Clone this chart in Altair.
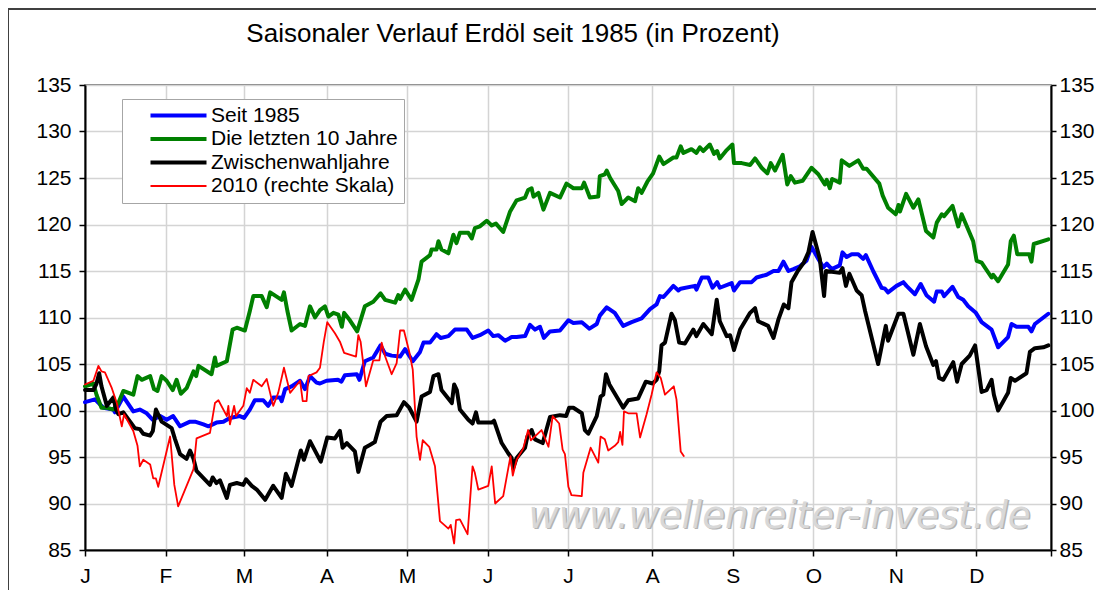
import altair as alt
import pandas as pd

TITLE = "Saisonaler Verlauf Erdöl seit 1985 (in Prozent)"
SERIES = ["Seit 1985", "Die letzten 10 Jahre", "Zwischenwahljahre", "2010 (rechte Skala)"]
COLORS = ["#0000ff", "#008000", "#000000", "#ff0000"]
MONTH_TICKS = [0, 21, 41.5, 63, 84, 105, 126, 148, 169, 190, 211.5, 232.5, 252]
MONTH_LABELS = ["J", "F", "M", "A", "M", "J", "J", "A", "S", "O", "N", "D", ""]
Y_TICKS = [85, 90, 95, 100, 105, 110, 115, 120, 125, 130, 135]
WATERMARK = "www.wellenreiter-invest.de"

# Seit 1985 (blue)
blue_day = [0, 2.6, 4.8, 7.4, 7.8, 10, 12.6, 14.3, 16.1, 17.7, 19.6, 21.3, 23, 24.8, 27.4, 28.7,
            30.9, 32.2, 34.3, 36.1, 37.8, 40.4, 41.5, 43, 44.3, 46.5, 47.8, 49.1, 50.9, 51.3, 52.2,
            53.9, 56.1, 57.4, 58.7, 60.4, 61.3, 63, 66, 66.9, 67.8, 70.9, 71.6, 73, 75.2, 77.1,
            78.3, 80, 82.2, 83.5, 85.5, 87.4, 88.3, 90, 91.7, 92.8, 94.8, 96.5, 99.6, 101.1, 103,
            105.2, 106.5, 107.8, 109.6, 111.3, 112.6, 114.8, 116.1, 117.4, 118.7, 119.7, 121.3,
            123.9, 126.1, 127.4, 129.6, 131.6, 133.5, 134.3, 136.1, 138.2, 140.4, 142.6, 145.2,
            147.4, 149.1, 150, 150.9, 153.5, 154.8, 155.4, 159.1, 159.5, 160.9, 162.6, 163.7,
            164.9, 165.6, 168.7, 169.3, 170.9, 173.9, 175.2, 177.8, 179.6, 180.9, 182.2, 183.5,
            184.8, 186.5, 188.2, 189.5, 191.3, 192.6, 193.5, 194.8, 196.9, 197.6, 198.7, 200,
            201.7, 203, 203.7, 205.6, 207.8, 208.7, 209.5, 211.7, 213.5, 214.3, 216.5, 218, 219.5,
            221.5, 222.2, 223.5, 224.1, 226.3, 227.8, 229.1, 230.4, 232.4, 233.9, 236.5, 238.2,
            240.8, 241.7, 243, 246.1, 246.9, 247.8, 251.3]
blue_val = [100.9, 101.2, 100.3, 100.1, 99.8, 101.5, 99.9, 100.1, 99.7, 99.0, 99.4, 99.0, 99.4, 98.3,
            98.8, 98.8, 98.5, 98.3, 98.7, 98.8, 99.2, 99.4, 99.2, 100.1, 101.1, 101.1, 100.5, 101.4,
            101.4, 101.0, 102.3, 102.6, 103.2, 102.3, 103.7, 103.0, 102.9, 103.2, 103.3, 103.1,
            103.8, 103.9, 103.3, 105.3, 105.7, 107.0, 106.1, 105.9, 105.8, 106.6, 105.3, 106.3,
            107.3, 107.3, 108.2, 107.8, 108.0, 108.7, 108.7, 107.8, 108.1, 108.6, 108.0, 108.1,
            107.5, 107.9, 107.9, 108.0, 109.2, 108.7, 109.0, 107.8, 108.5, 108.6, 109.7, 109.4,
            109.5, 108.8, 109.3, 110.2, 111.1, 110.5, 109.1, 109.5, 109.9, 110.9, 111.4, 112.3,
            112.2, 113.4, 112.9, 113.1, 113.4, 113.0, 114.3, 114.3, 113.2, 113.8, 113.2, 113.7,
            112.9, 113.8, 113.8, 114.3, 114.6, 115.0, 115.0, 116.0, 115.0, 115.2, 115.5, 116.1,
            117.6, 116.3, 115.4, 115.8, 115.2, 115.6, 117.0, 116.5, 116.8, 116.8, 116.3, 116.7,
            115.0, 113.2, 113.1, 112.7, 113.4, 113.8, 113.4, 112.5, 113.6, 112.4, 111.7, 112.8,
            112.8, 112.3, 113.3, 112.2, 111.9, 111.2, 110.5, 109.5, 108.7, 106.8, 107.9, 109.3,
            109.0, 109.0, 108.5, 109.3, 110.4]

# Die letzten 10 Jahre (green)
green_day = [0, 2.2, 3, 4.3, 5.7, 7.4, 8.7, 10, 12.6, 13.7, 14.8, 17, 18, 18.9, 20, 21.3, 22.9, 23.9,
             25, 26.5, 28.3, 29, 29.6, 33, 33.9, 34.3, 37, 38.5, 39.6, 41.7, 43, 43.9, 46.1, 47.4,
             48.3, 51.3, 51.9, 52.8, 53.9, 56.1, 57.4, 58.7, 60, 61.3, 62.6, 63.5, 64.8, 66.1, 67,
             67.6, 69.1, 71, 73, 75.2, 77.1, 78.3, 80.9, 81.7, 82.2, 83.5, 85.2, 87, 87.8, 90, 90.4,
             91.7, 92.2, 93, 94.8, 96.1, 96.9, 97.8, 100, 100.9, 101.7, 103, 104.8, 106.1, 107.2,
             109.1, 110.9, 112.6, 114.8, 115.6, 116.5, 117, 118.3, 119.6, 121.3, 123.9, 125.6,
             127.4, 129.6, 130.2, 131.7, 133.9, 134.3, 135.6, 136.1, 137, 139.1, 140, 141.7, 143.5,
             144.3, 145.2, 146.7, 148.2, 149.8, 150.9, 153.5, 154.3, 155.4, 156.1, 158.2, 159.5,
             160.4, 161.3, 163, 164.1, 164.9, 165.6, 167.4, 168.9, 169.3, 171.3, 173.5, 174.8,
             176.5, 178, 178.9, 180, 182, 183.2, 184.1, 185.2, 187.2, 189.5, 191.3, 193, 193.5,
             194.3, 194.9, 196.9, 197.4, 199.4, 201.7, 203, 203.9, 207.2, 208.1, 209.5, 211.5,
             212.2, 212.6, 214.2, 216.1, 217.4, 219.4, 221.3, 222.2, 223.5, 224.1, 226.3, 227.8,
             228.7, 231.7, 232.6, 233.9, 236.5, 236.9, 238.2, 240.8, 241.5, 242.3, 243.2, 246.3,
             246.9, 247.5, 251.3]
green_val = [102.6, 102.9, 101.7, 100.3, 100.3, 100.1, 100.8, 102.1, 101.7, 103.7, 103.3, 103.7, 102.3,
             102.1, 103.7, 103.2, 102.2, 103.3, 101.8, 102.4, 104.2, 103.7, 104.8, 103.9, 105.7,
             104.8, 105.3, 108.7, 108.9, 108.6, 110.7, 112.3, 112.3, 111.1, 112.7, 111.9, 112.7,
             110.7, 108.6, 109.3, 109.1, 111.2, 110.0, 110.8, 111.2, 110.1, 110.5, 110.3, 109.0,
             110.5, 109.7, 108.5, 111.2, 111.7, 112.6, 111.9, 111.6, 112.4, 112.0, 113.0, 111.9,
             114.1, 116.0, 116.7, 117.3, 117.3, 118.2, 117.3, 116.9, 118.9, 118.0, 119.1, 119.1,
             118.5, 119.6, 119.8, 120.4, 119.9, 120.1, 119.2, 121.4, 122.6, 122.9, 123.7, 123.9,
             123.0, 123.4, 121.6, 123.4, 122.9, 124.4, 123.9, 123.9, 124.5, 122.9, 123.0, 125.2,
             125.4, 125.8, 125.0, 123.6, 122.2, 122.9, 122.5, 123.9, 123.4, 124.6, 125.5, 127.3,
             126.5, 127.2, 127.2, 128.4, 127.7, 128.1, 127.7, 128.3, 127.9, 128.6, 127.6, 127.9,
             127.1, 128.0, 128.6, 126.6, 126.6, 126.4, 127.1, 126.1, 125.5, 126.6, 125.8, 127.5,
             124.3, 125.2, 124.5, 124.7, 126.1, 125.4, 124.3, 124.8, 123.9, 124.9, 124.5, 126.9,
             126.3, 126.9, 126.0, 126.0, 124.4, 123.1, 121.8, 121.1, 122.1, 121.4, 123.3, 121.8,
             122.7, 119.3, 118.6, 120.2, 121.1, 120.9, 122.0, 119.8, 121.1, 118.2, 116.1, 115.9,
             114.3, 114.6, 113.9, 115.7, 118.2, 118.8, 116.8, 116.8, 116.0, 117.9, 118.4]

# Zwischenwahljahre (black)
black_day = [0, 2.2, 3, 3.7, 4.3, 5.7, 7.4, 8.1, 8.7, 10, 13, 14.3, 15.2, 17, 17.7, 18.5, 20, 22.6,
             23.5, 24.8, 26.5, 27.4, 28.3, 29.1, 32.6, 33.3, 34.3, 35.2, 37, 37.8, 39.6, 41.3, 42,
             43.5, 44.8, 47, 49.1, 51.3, 52.4, 53.9, 56.3, 57.1, 58.7, 61.5, 63.2, 65.2, 66.5, 67.2,
             68.3, 70.4, 71.3, 73, 74.3, 75.6, 77.1, 78.7, 81.3, 83.2, 84.6, 86.5, 87.8, 90, 90.9,
             92.2, 93, 95.7, 96.3, 97, 97.8, 100, 101.1, 102, 102.6, 106.1, 106.7, 108.7, 110.4,
             111.3, 111.7, 112.6, 114.8, 115.4, 116.5, 117.4, 119.4, 121.3, 123.9, 125.5, 126.3,
             127.4, 129.6, 130.4, 131.3, 133.5, 134.5, 135.2, 135.9, 136.8, 139.4, 140.4, 141.7,
             144.3, 146.3, 148.1, 149.1, 149.8, 150.4, 151.3, 153, 153.9, 155, 156.5, 158.7, 159.5,
             161.3, 163.5, 164.8, 165.6, 167.4, 168.3, 169.3, 170.9, 173.5, 174.8, 175.6, 178.2,
             179.6, 180.9, 182.3, 183.5, 184.3, 185.8, 187.5, 188.7, 189.8, 191.7, 192.8, 193.3,
             196.9, 197.6, 198.5, 199.4, 201.3, 202.6, 203.5, 206.9, 208.9, 209.5, 212.2, 213.5,
             216.1, 217.8, 219.4, 221.3, 222, 222.8, 223.9, 226.5, 227.5, 228.7, 230.8, 232.2,
             233.9, 235.2, 236.5, 237.1, 238.2, 240.8, 241.5, 242.6, 245.6, 246.5, 247.8, 250, 251.3]
black_val = [102.2, 102.2, 102.9, 104.0, 102.6, 100.5, 101.4, 100.1, 99.6, 99.8, 98.1, 98.0, 97.5, 97.3,
             97.8, 100.1, 98.8, 98.1, 96.9, 95.3, 94.8, 95.7, 94.8, 93.5, 92.0, 92.8, 92.2, 92.5,
             90.6, 92.0, 92.2, 92.0, 92.6, 91.9, 91.5, 90.4, 91.9, 90.6, 93.2, 91.9, 95.7, 94.7,
             96.7, 94.5, 97.1, 97.0, 97.8, 96.0, 96.5, 95.6, 93.4, 96.0, 96.3, 96.6, 98.8, 99.4,
             99.5, 100.9, 100.3, 98.8, 101.5, 102.0, 103.7, 103.9, 102.2, 100.8, 102.8, 102.2,
             100.1, 99.0, 98.6, 99.8, 98.7, 98.7, 98.9, 96.5, 95.4, 94.9, 93.8, 94.9, 96.0, 97.2,
             97.9, 96.9, 96.5, 99.3, 99.5, 99.4, 100.3, 100.3, 99.7, 97.9, 97.5, 99.4, 101.5, 101.7,
             103.9, 102.8, 101.0, 100.3, 101.1, 101.3, 103.1, 102.9, 103.3, 104.2, 107.0, 107.3,
             110.4, 109.7, 107.3, 107.2, 108.7, 108.0, 109.3, 108.2, 111.9, 109.6, 108.0, 108.1,
             106.5, 108.7, 110.5, 111.0, 109.6, 109.1, 107.8, 109.8, 111.4, 111.0, 113.8, 114.9,
             115.9, 117.0, 119.2, 116.3, 112.3, 115.0, 114.8, 115.3, 113.4, 114.7, 112.9, 112.4,
             110.7, 105.0, 109.1, 107.5, 110.4, 110.4, 106.0, 109.3, 106.9, 104.9, 105.3, 103.5,
             103.3, 105.2, 103.1, 105.0, 105.9, 107.0, 102.0, 102.2, 103.3, 101.7, 100.0, 101.9,
             103.5, 103.2, 104.0, 106.3, 106.7, 106.8, 107.0]

# 2010 (rechte Skala) (red)
red_day = [0, 2.2, 3.5, 4.3, 5.2, 7, 8.3, 9.6, 10.2, 12.6, 13.7, 14.3, 15.2, 17, 17.8, 18.5, 19.1,
           22.2, 23.3, 24.3, 28.3, 29.1, 32.6, 33.9, 34.8, 37, 37.4, 37.8, 38.9, 39.4, 41.3, 42.2,
           43, 43.9, 46.1, 47.4, 49.1, 50.4, 51.9, 53.5, 56.1, 56.8, 57.8, 58.3, 60.4, 61.3, 62.3,
           63.2, 65.2, 66.5, 67.6, 70.7, 71.3, 71.9, 73.3, 75.2, 76.8, 77.4, 78.3, 80, 81.3, 82.2,
           83.2, 84.6, 85.5, 86.5, 87.4, 88.1, 89.8, 91.3, 92.6, 94.8, 95.4, 96.3, 96.8, 97.8, 99.8,
           101.1, 101.7, 102.6, 105.2, 106.1, 107, 109.1, 111, 111.6, 112.6, 114.3, 115.6, 116.3,
           119.1, 120.9, 122, 123.7, 124.6, 125.2, 126.1, 126.9, 129.6, 130, 131.9, 133.9, 134.5,
           135.6, 136.5, 138.2, 139.1, 139.6, 140.2, 140.6, 141.7, 143.9, 144.8, 146.5, 147.8,
           149.1, 150.2, 151.3, 153.6, 154.3, 155.4, 156.2]
red_val = [102.8, 103.2, 104.8, 104.2, 104.1, 102.4, 100.8, 98.3, 99.6, 97.8, 96.2, 94.0, 94.7, 94.2,
           92.7, 92.7, 91.8, 97.2, 92.0, 89.7, 93.7, 97.0, 97.6, 100.8, 101.1, 99.4, 100.5, 98.5,
           100.5, 99.4, 100.5, 102.4, 101.9, 103.3, 102.6, 103.4, 100.5, 101.9, 104.6, 101.9, 103.2,
           101.0, 101.0, 103.7, 104.1, 104.6, 107.4, 109.5, 108.3, 107.4, 106.2, 105.8, 108.1,
           107.4, 102.6, 105.4, 105.4, 107.3, 105.8, 103.9, 105.1, 108.6, 108.6, 106.3, 104.4,
           97.2, 94.7, 96.8, 96.1, 94.0, 88.1, 87.3, 87.7, 85.7, 88.2, 88.3, 86.7, 94.0, 93.3,
           91.5, 91.9, 94.0, 90.0, 90.8, 95.1, 93.0, 94.7, 95.9, 97.9, 96.8, 97.9, 96.1, 99.4,
           98.6, 95.8, 95.3, 91.8, 90.9, 90.8, 93.3, 96.0, 94.4, 97.2, 96.9, 95.7, 96.2, 96.6,
           97.7, 96.3, 99.9, 99.7, 99.7, 97.1, 99.6, 101.7, 104.1, 103.5, 101.7, 102.6, 101.2,
           95.6, 95.1]


def frame(days, vals, name):
    return pd.DataFrame({"day": days, "value": vals, "series": name})


FONT = "Liberation Sans"

label_expr = "''"
for v, lab in reversed(list(zip(MONTH_TICKS, MONTH_LABELS))):
    label_expr = f"datum.value == {v} ? '{lab}' : ({label_expr})"

x_enc = alt.X("day:Q", scale=alt.Scale(domain=[0, 252], nice=False, zero=False),
              axis=alt.Axis(values=MONTH_TICKS, labelExpr=label_expr, title=None, grid=True,
                            tickSize=6, labelPadding=9, labelAlign="center", labelFlush=False,
                            labelOverlap=False))

y_scale = alt.Scale(domain=[85, 135], nice=False, zero=False)

legend = alt.Legend(
    title=None, orient="none", legendX=37, legendY=14, direction="vertical",
    labelFont=FONT, labelFontSize=21, labelColor="black", labelOffset=22, labelLimit=400,
    symbolType="stroke", symbolSize=3136, clipHeight=21, rowPadding=1.5,
    symbolOffset=40, padding=6, strokeColor="#a6a6a6", fillColor="white",
    symbolStrokeWidth=alt.ExprRef("datum.value == '2010 (rechte Skala)' ? 1.8 : 4"),
)
color_enc = alt.Color("series:N", scale=alt.Scale(domain=SERIES, range=COLORS), legend=legend)


def line(df, width, axis):
    return alt.Chart(df).mark_line(strokeWidth=width, strokeJoin="round", strokeCap="round").encode(
        x=x_enc,
        y=alt.Y("value:Q", scale=y_scale, axis=axis),
        color=color_enc,
    )


left_axis = alt.Axis(values=Y_TICKS, orient="left", title=None, grid=True, tickSize=6, labelPadding=8)
right_axis = alt.Axis(values=Y_TICKS, orient="right", title=None, grid=False, tickSize=5, labelPadding=3)

wm_df = pd.DataFrame({"t": [WATERMARK]})
wm_shadow = alt.Chart(wm_df).mark_text(font="DejaVu Sans", fontStyle="italic", fontSize=37,
                                       color="#b4b4b4", align="center", baseline="alphabetic").encode(
    x=alt.value(696), y=alt.value(444), text="t:N")
wm = alt.Chart(wm_df).mark_text(font="DejaVu Sans", fontStyle="italic", fontSize=37,
                                color="#d8d8d8", align="center", baseline="alphabetic").encode(
    x=alt.value(694.5), y=alt.value(442.5), text="t:N")

frame_df = pd.DataFrame({"k": [0]})
border_v = alt.Chart(frame_df).mark_rule(color="#404040", strokeWidth=2).encode(
    x=alt.value(-77), y=alt.value(-76), y2=alt.value(520))
border_h = alt.Chart(frame_df).mark_rule(color="#404040", strokeWidth=2).encode(
    x=alt.value(-77), x2=alt.value(1030), y=alt.value(-76))

left_group = alt.layer(
    wm_shadow, wm,
    line(frame(blue_day, blue_val, SERIES[0]), 4, left_axis),
    line(frame(green_day, green_val, SERIES[1]), 4, left_axis),
    line(frame(black_day, black_val, SERIES[2]), 4, left_axis),
    border_v, border_h,
)
right_group = line(frame(red_day, red_val, SERIES[3]), 1.8, right_axis)

chart = alt.layer(left_group, right_group).resolve_scale(y="independent").properties(
    width=966, height=465,
    autosize=alt.AutoSizeParams(type="none"),
    padding={"left": 77, "top": 77, "right": 45, "bottom": 40},
    title=alt.Title(TITLE, font=FONT, fontSize=26, fontWeight="normal", color="black",
                    anchor="middle", frame="group", dx=-55, offset=-60, baseline="alphabetic"),
).configure_view(stroke="#555555", strokeWidth=1.5).configure_axis(
    gridColor="#d4d4d4", gridWidth=1.5, domainColor="black", domainWidth=2,
    tickColor="black", tickWidth=1.5, labelFont=FONT, labelFontSize=21, labelColor="black",
)

chart.save("out.html", embed_options={"renderer": "svg", "actions": False})
